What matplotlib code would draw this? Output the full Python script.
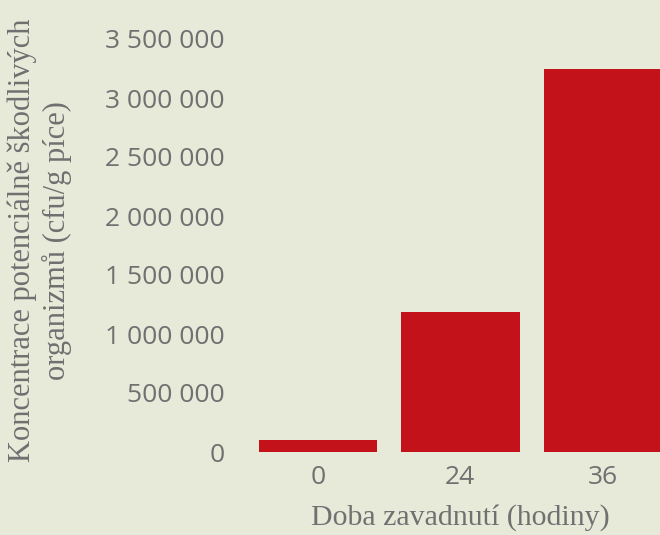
import numpy as np
import matplotlib.pyplot as plt
from matplotlib.ticker import FuncFormatter

hours = ['0', '24', '36']
concentration = [100000, 1185000, 3250000]
yticks = [0, 500000, 1000000, 1500000, 2000000, 2500000, 3000000, 3500000]

bg = '#e7e9d9'
red = '#c4121a'
grey = '#707070'

fig = plt.figure(figsize=(6.6, 5.35), dpi=100, facecolor=bg)
ax = fig.add_axes([240/660, 1-452/535, 420/660, 413/535], facecolor=bg)

x = np.arange(len(hours))
ax.bar(x, concentration, width=0.83, color=red)
ax.set_xlim(-0.545, 2.40)
ax.set_ylim(0, 3500000)
ax.set_xticks(x)
ax.set_xticklabels(hours)
ax.set_yticks(yticks)
ax.yaxis.set_major_formatter(FuncFormatter(lambda v, p: f'{int(v):,}'.replace(',', ' ')))

for s in ax.spines.values():
    s.set_visible(False)
ax.tick_params(length=0, colors=grey, labelsize=19)
ax.tick_params(axis='y', pad=11)
ax.tick_params(axis='x', pad=9)
for t in ax.get_xticklabels() + ax.get_yticklabels():
    t.set_fontfamily('Open Sans')

ax.set_xlabel('Doba zavadnutí (hodiny)', fontsize=21.5, color=grey,
              fontfamily='Liberation Serif')
ax.xaxis.set_label_coords(0.525, -0.125)
ax.set_ylabel('Koncentrace potenciálně škodlivých\norganizmů (cfu/g píce)',
              fontsize=22, color=grey, fontfamily='Liberation Serif',
              linespacing=1.2)
ax.yaxis.set_label_coords(-0.4, 0.513)

fig.savefig('out.png', dpi=100, facecolor=bg)
